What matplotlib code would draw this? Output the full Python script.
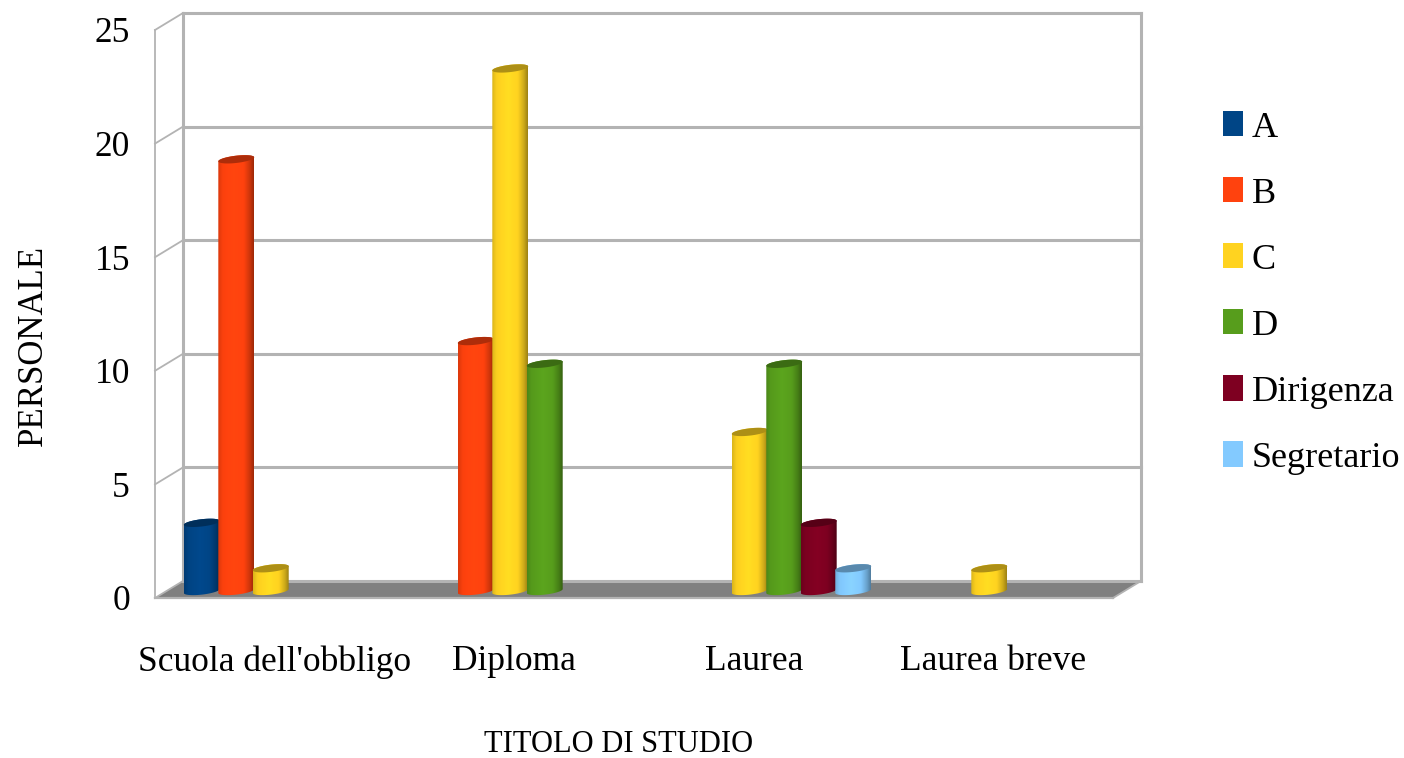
import numpy as np
import matplotlib
matplotlib.use("Agg")
import matplotlib.pyplot as plt
from matplotlib.patches import Patch, PathPatch, Polygon
from matplotlib.path import Path
from matplotlib.transforms import Affine2D

plt.rcParams["font.family"] = ["Liberation Serif", "DejaVu Serif"]

# -----------------------------
# Data
# -----------------------------
titoli = ["Scuola dell'obbligo", "Diploma", "Laurea", "Laurea breve"]
qualifiche = ["A", "B", "C", "D", "Dirigenza", "Segretario"]
valori_a = [3, 0, 0, 0]
valori_b = [19, 11, 0, 0]
valori_c = [1, 23, 7, 1]
valori_d = [0, 10, 10, 0]
valori_dirigenza = [0, 0, 3, 0]
valori_segretario = [0, 0, 1, 0]
colori = ["#004586", "#ff420e", "#ffd320", "#579d1c", "#7e0021", "#83caff"]
y_ticks = [0, 5, 10, 15, 20, 25]

serie = [valori_a, valori_b, valori_c, valori_d, valori_dirigenza, valori_segretario]

# -----------------------------
# Geometry of the fake 3D box
# -----------------------------
W, H = 1404, 758
DEPTH_X, DEPTH_Y = 28, 17      # back wall shift, pixels
BAR_SHIFT = (13.25, 7)         # bars stand inside the floor
BAR_PITCH = 0.144
BAR_WIDTH = 0.150
CAP_H = 0.16                   # half height of the top ellipse
CAP_TILT = 0.088
GRID = "#b3b3b3"


def cylinder_paths(cx, val):
    """Body and cap outlines of one cylinder, in data units."""
    t = np.linspace(0, 2 * np.pi, 80)
    ex = cx + BAR_WIDTH / 2 * np.cos(t)
    ring = CAP_H * np.sin(t) + CAP_TILT * np.cos(t)
    cap = np.column_stack([ex, val + ring])

    # body: upper half of the top ellipse, then lower half of the base
    half = t[:40]
    top = cap[:40]
    bot_x = cx - BAR_WIDTH / 2 * np.cos(half)
    bot_y = -CAP_H * np.sin(half) - CAP_TILT * np.cos(half)
    body = np.vstack([top, np.column_stack([bot_x, bot_y]), top[:1]])
    return body, cap


def draw_cylinder(ax, cx, val, color, trans):
    rgb = np.array(matplotlib.colors.to_rgb(color))
    body, cap = cylinder_paths(cx, val)

    # horizontal shading: dim left edge, bright middle, dark right edge
    u = np.linspace(0, 1, 64)
    shade = np.interp(u, [0, 0.12, 0.45, 0.72, 0.88, 1.0], [0.86, 0.98, 1.05, 1.0, 0.82, 0.62])
    grad = np.clip(rgb[None, None, :] * shade[None, :, None], 0, 1)

    patch = PathPatch(Path(body), facecolor="none", edgecolor="none", transform=trans)
    ax.add_patch(patch)
    im = ax.imshow(
        grad,
        extent=[cx - BAR_WIDTH / 2, cx + BAR_WIDTH / 2, -0.5, val + 0.5],
        aspect="auto",
        interpolation="bilinear",
        zorder=3,
    )
    im.set_transform(trans)
    im.set_clip_path(patch)
    im.set_clip_box(None)

    ax.add_patch(Polygon(cap, closed=True, facecolor=rgb * 0.68, edgecolor="none", transform=trans, zorder=3))


# -----------------------------
# Main
# -----------------------------
def main():
    fig = plt.figure(figsize=(W / 100, H / 100), dpi=100)
    ax = fig.add_axes([155 / W, (H - 598) / H, 958 / W, 568 / H])
    x0, x1 = -0.5, 3.5
    ax.set_xlim(x0, x1)
    ax.set_ylim(0, 25)

    back = ax.transData + Affine2D().translate(DEPTH_X, DEPTH_Y)
    bars = ax.transData + Affine2D().translate(*BAR_SHIFT)

    # floor
    floor_front = ax.transData.transform([(x0, 0), (x1, 0)])
    floor_back = back.transform([(x1, 0), (x0, 0)])
    ax.add_patch(Polygon(np.vstack([floor_front, floor_back]), closed=True, facecolor="#808080",
                         edgecolor="none", transform=Affine2D(), zorder=1, clip_on=False))
    ax.plot([x0, x1], [0, 0], color=GRID, lw=1.6, zorder=1.5, clip_on=False)

    # back wall and side wall
    for v in y_ticks:
        ax.plot([x0, x1], [v, v], color=GRID, lw=2.2, transform=back, zorder=1.5, clip_on=False)
        p_back = back.transform((x0, v))
        p_front = ax.transData.transform((x0, v))
        ax.plot([p_front[0], p_back[0]], [p_front[1], p_back[1]], color=GRID, lw=1.3,
                transform=Affine2D(), zorder=1.5, clip_on=False)
    for x in (x0, x1):
        ax.plot([x, x], [0, 25], color=GRID, lw=2.2, transform=back, zorder=1.5, clip_on=False)
    ax.plot([x0, x0], [0, 25], color=GRID, lw=1.3, zorder=1.5, clip_on=False)
    p_front = ax.transData.transform((x1, 0))
    p_back = back.transform((x1, 0))
    ax.plot([p_front[0], p_back[0]], [p_front[1], p_back[1]], color=GRID, lw=1.3,
            transform=Affine2D(), zorder=1.5, clip_on=False)

    # cylinders, left to right so that each one overlaps the previous
    offs = (np.arange(len(qualifiche)) - (len(qualifiche) - 1) / 2) * BAR_PITCH
    for i in range(len(titoli)):
        for j, valori in enumerate(serie):
            if valori[i] > 0:
                draw_cylinder(ax, i + offs[j], valori[i], colori[j], bars)

    ax.set_xlim(x0, x1)
    ax.set_ylim(0, 25)
    ax.set_xticks(range(len(titoli)), titoli, fontsize=25.5)
    ax.set_yticks(y_ticks, [str(v) for v in y_ticks], fontsize=25.5)
    ax.tick_params(axis="x", length=0, pad=34)
    ax.tick_params(axis="y", length=0, pad=18)
    for s in ax.spines.values():
        s.set_visible(False)
    ax.patch.set_visible(False)

    ax.set_xlabel("TITOLO DI STUDIO", fontsize=22, x=(619 - 155) / 958, labelpad=37)
    ax.set_ylabel("PERSONALE", fontsize=25, y=(598 - 345) / 568, labelpad=32)

    handles = [Patch(facecolor=c, edgecolor="none") for c in colori]
    fig.legend(handles, qualifiche, loc="center left", bbox_to_anchor=(1223 / W, (H - 293) / H),
               frameon=False, fontsize=26, handlelength=0.55, handleheight=0.69,
               handletextpad=0.25, labelspacing=0.91, borderpad=0, borderaxespad=0)

    fig.savefig("out.png", dpi=100)
    plt.close(fig)


if __name__ == "__main__":
    main()
